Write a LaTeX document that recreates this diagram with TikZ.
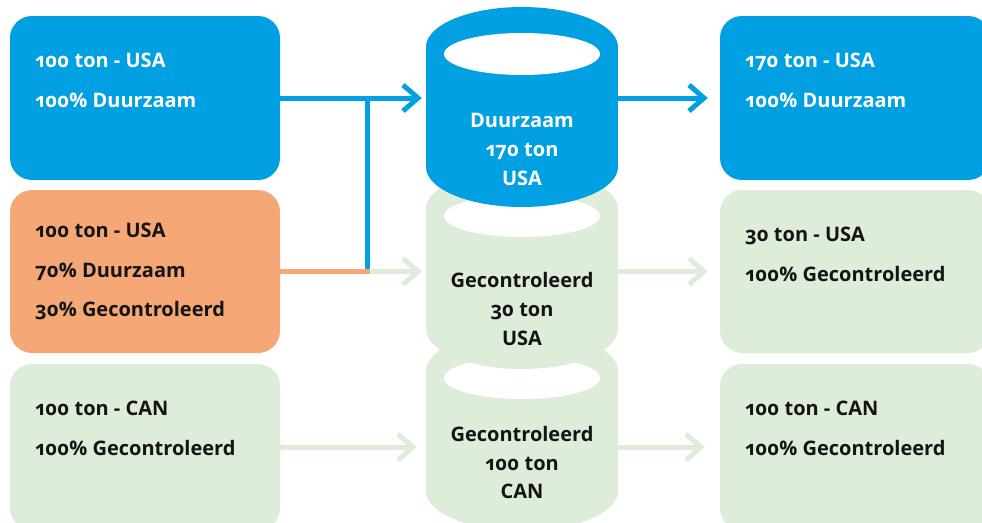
\documentclass[tikz,border=0pt]{standalone}
\usepackage{fontspec}
\setmainfont{Open Sans}[Numbers=OldStyle]
\usetikzlibrary{arrows.meta}
\definecolor{rblue}{RGB}{0,160,226}
\definecolor{rorange}{RGB}{245,168,117}
\definecolor{rgreen}{RGB}{221,237,218}
\definecolor{rtext}{RGB}{20,20,20}
\tikzset{
  box/.style={rounded corners=22pt, minimum width=270pt, inner sep=0pt},
  frame/.style={minimum width=192pt, minimum height=200pt, inner sep=0pt},
  txt/.style={anchor=base west, inner sep=0pt, font=\bfseries\fontsize{20}{24}\selectfont, text=rtext},
  ctxt/.style={anchor=base, inner sep=0pt, font=\bfseries\fontsize{20}{24}\selectfont, text=rtext},
  wtxt/.style={text=white},
  conn/.style={line width=5pt, -{Straight Barb[length=15pt,width=26pt]}},
  bconn/.style={conn, draw=rblue},
  gconn/.style={conn, draw=rgreen},
}
\newcommand{\cylbody}[2]{%
  \fill[#2] (522,#1) ellipse[x radius=96, y radius=40];
  \fill[#2] (426,#1) rectangle (618,#1+120);
  \fill[#2] (522,#1+120) ellipse[x radius=96, y radius=40];
  \fill[white] (522,#1+7) ellipse[x radius=78, y radius=21];
}
\begin{document}
\begin{tikzpicture}[x=1pt,y=-1pt]
\clip (0,0) rectangle (982,522);
\fill[white] (0,0) rectangle (982,522);
% boxes
\node[box, fill=rblue, minimum height=164pt] (b1) at (145,98) {};
\node[box, fill=rorange, minimum height=163pt] (b2) at (145,271.5) {};
\node[box, fill=rgreen, minimum height=166pt] (b3) at (145,447) {};
\node[box, fill=rblue, minimum height=164pt] (b4) at (855,98) {};
\node[box, fill=rgreen, minimum height=163pt] (b5) at (855,271.5) {};
\node[box, fill=rgreen, minimum height=166pt] (b6) at (855,447) {};
% cylinders
\cylbody{371}{rgreen}
\cylbody{209}{rgreen}
\cylbody{47}{rblue}
\node[frame] (c1) at (522,107) {};
\node[frame] (c2) at (522,269) {};
\node[frame] (c3) at (522,431) {};
% texts left
\node[txt, wtxt] (t1a) at (35,67) {100 ton - USA};
\node[txt, wtxt] (t1b) at (35,107) {100\% Duurzaam};
\node[txt] (t2a) at (35,237) {100 ton - USA};
\node[txt] (t2b) at (35,277) {70\% Duurzaam};
\node[txt] (t2c) at (35,316) {30\% Gecontroleerd};
\node[txt] (t3a) at (35,415) {100 ton - CAN};
\node[txt] (t3b) at (35,455) {100\% Gecontroleerd};
% texts right
\node[txt, wtxt] (t4a) at (745,67) {170 ton - USA};
\node[txt, wtxt] (t4b) at (745,107) {100\% Duurzaam};
\node[txt] (t5a) at (745,241.5) {30 ton - USA};
\node[txt] (t5b) at (745,281) {100\% Gecontroleerd};
\node[txt] (t6a) at (745,415) {100 ton - CAN};
\node[txt] (t6b) at (745,455) {100\% Gecontroleerd};
% cylinder texts
\node[ctxt, wtxt] (k1a) at (522,127.7) {Duurzaam};
\node[ctxt, wtxt] (k1b) at (522,156.5) {170 ton};
\node[ctxt, wtxt] (k1c) at (522,185) {USA};
\node[ctxt] (k2a) at (522,287.3) {Gecontroleerd};
\node[ctxt] (k2b) at (522,316.5) {30 ton};
\node[ctxt] (k2c) at (522,345.7) {USA};
\node[ctxt] (k3a) at (522,441.7) {Gecontroleerd};
\node[ctxt] (k3b) at (522,470) {100 ton};
\node[ctxt] (k3c) at (522,498.3) {CAN};
% connectors
\coordinate (jb) at (367,269.3);
\coordinate (jo) at (369.5,271.5);
\draw[bconn, shorten >=4pt] (b1.east) -- (b1.east -| c1.west);
\draw[line width=5pt, draw=rblue] (jb) -- (jb |- b1.east);
\draw[line width=5pt, draw=rorange] (b2.east) -- (jo);
\draw[gconn, shorten >=4pt] (jo) -- (jo -| c2.west);
\draw[gconn, shorten >=9pt] (b3.east) -- (b3.east -| c3.west);
\draw[bconn, shorten >=12pt] (c1.east |- b1.east) -- (b4.west);
\draw[gconn, shorten >=12pt] (c2.east |- b5.west) -- (b5.west);
\draw[gconn, shorten >=15pt] (c3.east |- b6.west) -- (b6.west);
\end{tikzpicture}
\end{document}
